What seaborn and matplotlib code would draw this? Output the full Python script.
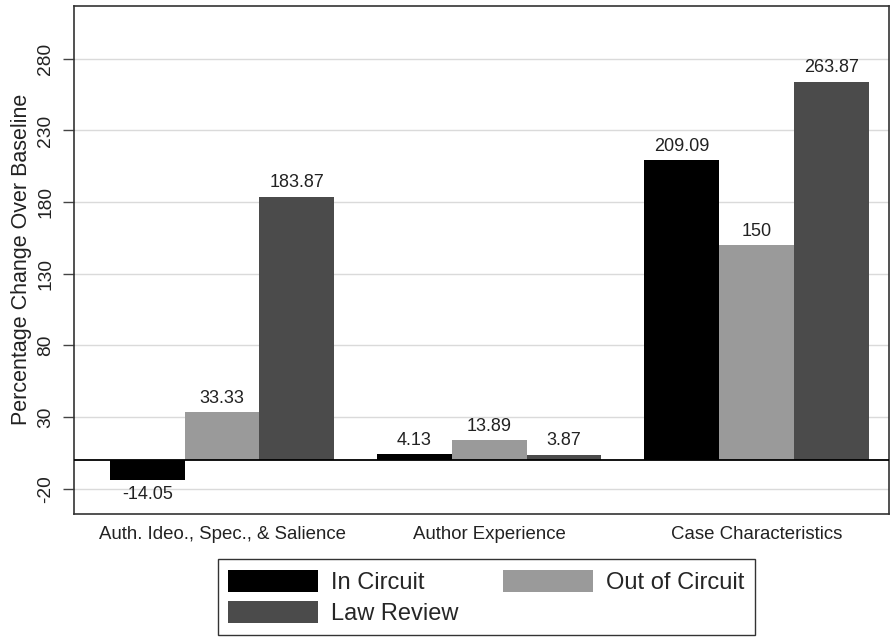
import pandas as pd
import seaborn as sns
import matplotlib.pyplot as plt

categories = ["Auth. Ideo., Spec., & Salience", "Author Experience", "Case Characteristics"]
series = ["In Circuit", "Out of Circuit", "Law Review"]
in_circuit = [-14.05, 4.13, 209.09]
out_circuit = [33.33, 13.89, 150]
law_review = [183.87, 3.87, 263.87]
yticks = [-20, 30, 80, 130, 180, 230, 280]
colors = ["#000000", "#9a9a9a", "#4b4b4b"]

df = pd.DataFrame({
    "category": categories * 3,
    "series": [series[0]] * 3 + [series[1]] * 3 + [series[2]] * 3,
    "value": in_circuit + out_circuit + law_review,
})

sns.set_style("white")
plt.rcParams['font.family'] = ['Liberation Sans', 'DejaVu Sans']
plt.rcParams['axes.unicode_minus'] = False

fig = plt.figure(figsize=(8.92, 6.38), dpi=100)
ax = fig.add_axes([0.0824, 0.195, 0.9142, 0.796])

sns.barplot(data=df, x="category", y="value", hue="series", hue_order=series,
            palette=colors, saturation=1, width=0.84, linewidth=0, ax=ax, zorder=3)

for c in ax.containers:
    ax.bar_label(c, fmt='%g', padding=4, fontsize=13, color='#222222')

ax.axhline(0, color='black', lw=1.3, zorder=4)
ax.set_yticks(yticks)
ax.set_ylim(-37.3, 317)
ax.set_xlim(-0.556, 2.496)
ax.grid(axis='y', color='#dadada', lw=1, zorder=0)
ax.set_axisbelow(True)
for s in ax.spines.values():
    s.set_color('#333333')
    s.set_linewidth(1.2)

ax.tick_params(axis='y', length=8, width=1, pad=6, labelsize=13.8, labelrotation=90, left=True,
               color='#444444', labelcolor='#222222')
for t in ax.get_yticklabels():
    t.set_va('center')
ax.tick_params(axis='x', length=0, pad=9, labelsize=13.4, labelcolor='#222222')
ax.set_xlabel("")
ax.set_ylabel("Percentage Change Over Baseline", fontsize=15.5, labelpad=4, color='#222222')

handles, labels = ax.get_legend_handles_labels()
ax.get_legend().remove()
order = [0, 2, 1]
fig.legend([handles[i] for i in order], [labels[i] for i in order],
           loc='upper center', bbox_to_anchor=(0.5454, 0.1238), ncol=2,
           fontsize=17, frameon=True, fancybox=False, framealpha=1,
           edgecolor='#333333', handlelength=3.8, handleheight=1.05,
           handletextpad=0.55, columnspacing=1.9, labelspacing=0.3, borderpad=0.45,
           borderaxespad=0)

fig.savefig("out.png", dpi=100)
